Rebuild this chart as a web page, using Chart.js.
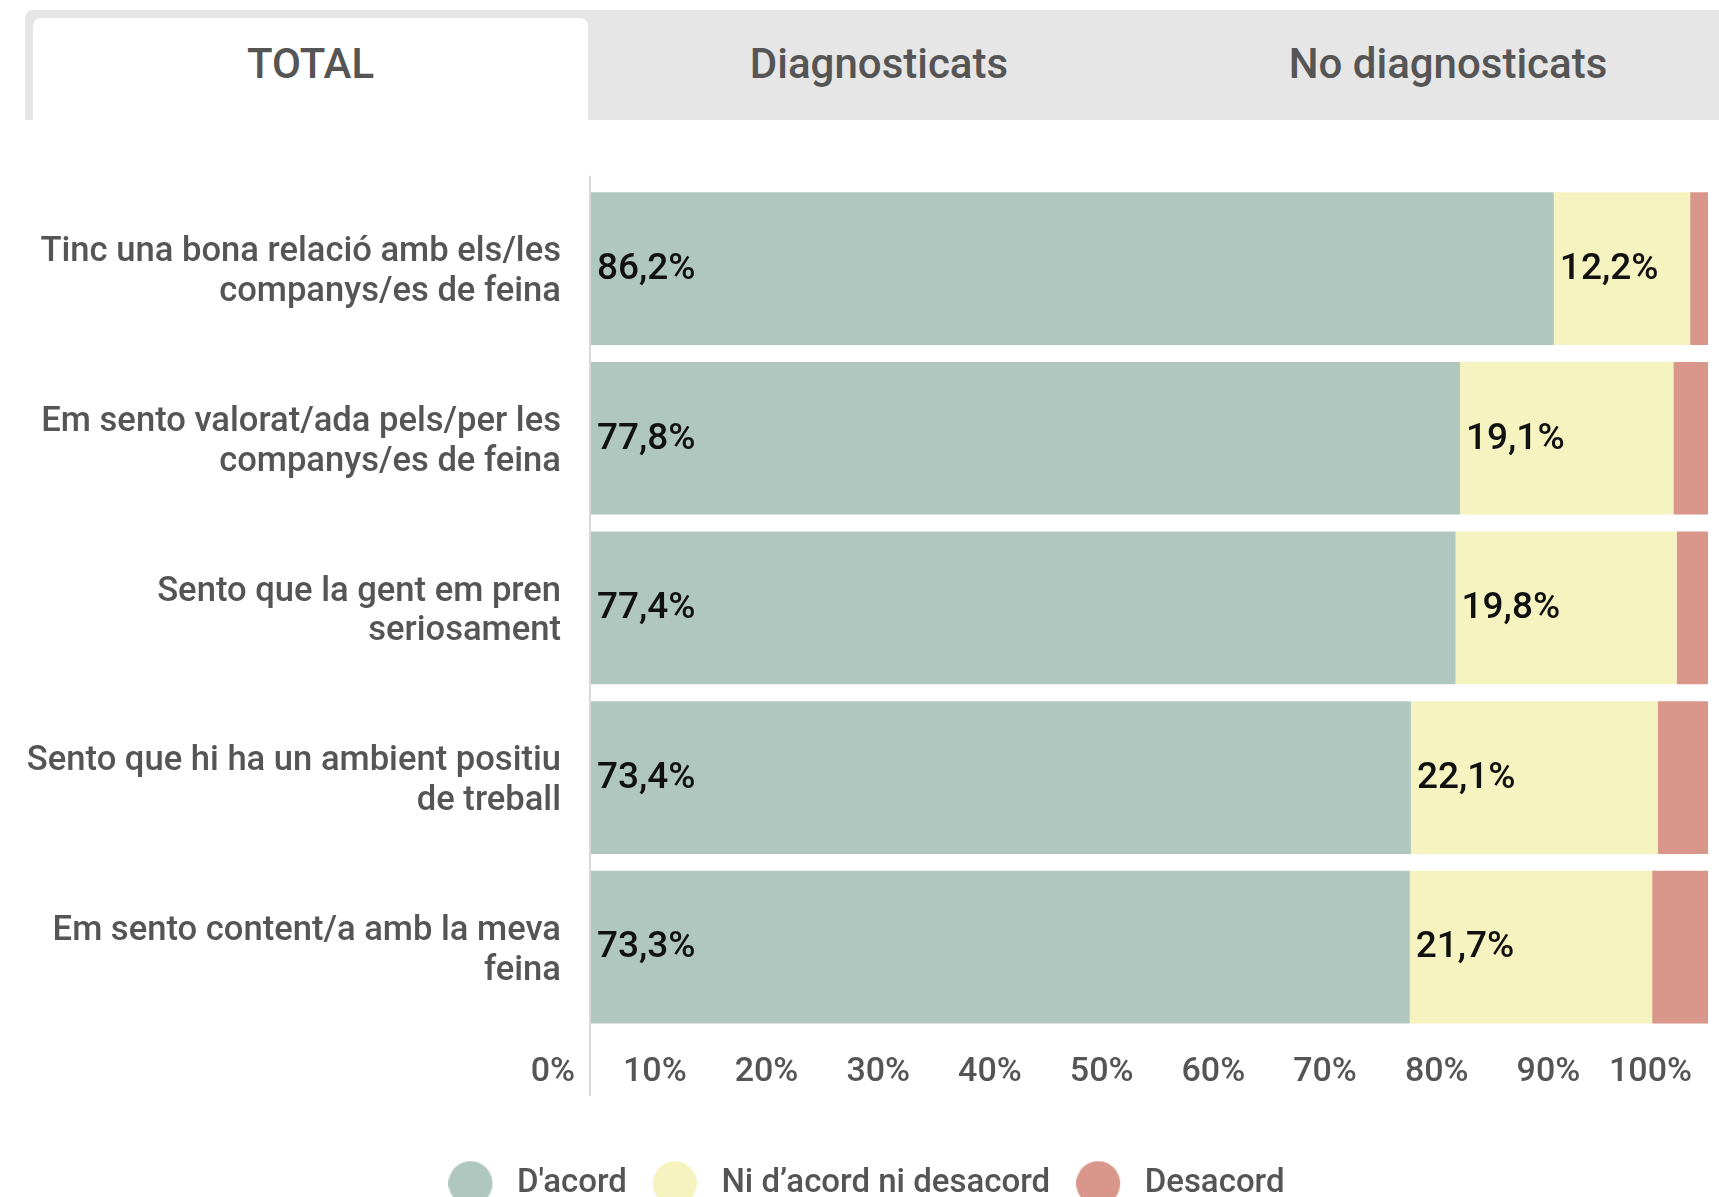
<!DOCTYPE html>
<html>
<head>
<meta charset="utf-8">
<script src="https://cdn.jsdelivr.net/npm/chart.js@4/dist/chart.umd.min.js"></script>
<style>
  html, body { margin: 0; padding: 0; background: #fff; overflow: hidden; }
  body { width: 1719px; height: 1197px; position: relative; font-family: Roboto, sans-serif; }
  .tabs { position: absolute; left: 25px; top: 10px; width: 1694px; height: 110px; background: #e6e6e6; border-top-left-radius: 8px; }
  .tab { position: absolute; top: 8px; height: 102px; line-height: 92px; text-align: center; font-size: 42px; font-weight: 500; color: #555; }
  .tab.active { background: #fff; border-top-left-radius: 8px; border-top-right-radius: 8px; }
  #wrap { position: absolute; left: 0; top: 114px; width: 1728px; height: 1096px; }
</style>
</head>
<body>
<div class="tabs">
  <div class="tab active" style="left:8px;width:555px;">TOTAL</div>
  <div class="tab" style="left:563px;width:582px;">Diagnosticats</div>
  <div class="tab" style="left:1145px;width:556px;">No diagnosticats</div>
</div>
<div id="wrap"><canvas id="chart"></canvas></div>
<script>
  // Survey data (%)
  const categories = [
    ["Tinc una bona relació amb els/les", "companys/es de feina"],
    ["Em sento valorat/ada pels/per les", "companys/es de feina"],
    ["Sento que la gent em pren", "seriosament"],
    ["Sento que hi ha un ambient positiu", "de treball"],
    ["Em sento content/a amb la meva", "feina"]
  ];
  const seriesNames = ["D'acord", "Ni d’acord ni desacord", "Desacord"];
  const dacord = [86.2, 77.8, 77.4, 73.4, 73.3];
  const niNi = [12.2, 19.1, 19.8, 22.1, 21.7];
  const desacord = [1.6, 3.1, 2.8, 4.5, 5.0];
  const tickValues = [0, 10, 20, 30, 40, 50, 60, 70, 80, 90, 100];
  const colors = ["#b0c7c0", "#f5f3c0", "#d9968a"];

  // legend dots: round marker on the left part of a slightly wider box
  const legendDots = colors.map(function (c) {
    const cv = document.createElement("canvas");
    cv.width = 52;
    cv.height = 46;
    const g = cv.getContext("2d");
    g.fillStyle = c;
    g.beginPath();
    g.ellipse(22, 23, 22, 22.5, 0, 0, Math.PI * 2);
    g.fill();
    return cv;
  });

  // value labels inside the first two segments
  const valueLabels = {
    id: "valueLabels",
    afterDatasetsDraw(chart) {
      const ctx = chart.ctx;
      ctx.save();
      ctx.font = "500 37px Roboto";
      ctx.fillStyle = "#111";
      ctx.textBaseline = "middle";
      ctx.textAlign = "left";
      [0, 1].forEach(function (di) {
        chart.getDatasetMeta(di).data.forEach(function (bar, i) {
          const v = chart.data.datasets[di].data[i];
          const left = Math.min(bar.x, bar.base);
          ctx.fillText(v.toFixed(1).replace(".", ",") + "%", left + 6, bar.y + 1);
        });
      });
      ctx.restore();
    }
  };

  // vertical axis line at 0
  const zeroLine = {
    id: "zeroLine",
    beforeDatasetsDraw(chart) {
      const { ctx, chartArea, scales } = chart;
      const x = scales.x.getPixelForValue(0) - 1;
      ctx.save();
      ctx.strokeStyle = "#d9d9d9";
      ctx.lineWidth = 2;
      ctx.beginPath();
      ctx.moveTo(x, chartArea.top - 8);
      ctx.lineTo(x, chartArea.bottom + 64);
      ctx.stroke();
      ctx.restore();
    }
  };

  new Chart(document.getElementById("chart"), {
    type: "bar",
    data: {
      labels: categories,
      datasets: [
        { label: seriesNames[0], data: dacord, backgroundColor: colors[0], borderWidth: 0 },
        { label: seriesNames[1], data: niNi, backgroundColor: colors[1], borderWidth: 0 },
        { label: seriesNames[2], data: desacord, backgroundColor: colors[2], borderWidth: 0 }
      ]
    },
    options: {
      indexAxis: "y",
      responsive: true,
      maintainAspectRatio: false,
      animation: false,
      categoryPercentage: 1,
      barPercentage: 0.9,
      layout: { padding: { left: 7, right: 2, top: 20, bottom: 0 } },
      scales: {
        x: {
          stacked: true,
          min: 0,
          max: 100,
          afterBuildTicks: function (s) { s.ticks = tickValues.map(v => ({ value: v })); },
          afterFit: function (s) { s.height = 109; },
          grid: { display: false, drawTicks: false },
          border: { display: false },
          ticks: {
            align: "end",
            labelOffset: -16,
            padding: 20,
            color: "#555",
            font: { family: "Roboto", size: 34, weight: 500 },
            callback: function (v) { return v + "%"; }
          }
        },
        y: {
          stacked: true,
          afterFit: function (s) { s.width = 584; },
          grid: { display: false, drawTicks: false },
          border: { display: false },
          ticks: {
            padding: 30,
            labelOffset: 4,
            color: "#555",
            font: { family: "Roboto", size: 34.6, weight: 500, lineHeight: 1.15 }
          }
        }
      },
      plugins: {
        legend: {
          position: "bottom",
          labels: {
            usePointStyle: true,
            boxHeight: 32,
            pointStyleWidth: 52,
            padding: 26,
            color: "#555",
            font: { family: "Roboto", size: 33, weight: 500 },
            generateLabels: function (chart) {
              const items = Chart.defaults.plugins.legend.labels.generateLabels(chart);
              items.forEach(function (it, i) { it.pointStyle = legendDots[i]; });
              return items;
            }
          }
        },
        tooltip: { enabled: false }
      }
    },
    plugins: [zeroLine, valueLabels]
  });
</script>
</body>
</html>
